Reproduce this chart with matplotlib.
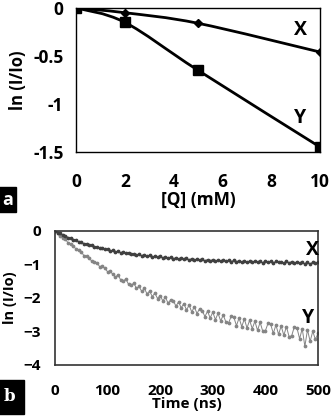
import numpy as np
import matplotlib
matplotlib.use("Agg")
from matplotlib import pyplot as plt
from matplotlib.path import Path
from matplotlib.patches import PathPatch

plt.rcParams['font.family'] = ['Open Sans', 'DejaVu Sans']
plt.rcParams['font.weight'] = 'bold'
plt.rcParams['axes.labelweight'] = 'bold'

# panel a: quenching data
conc = [0, 2, 5, 10]
x_quench = [0, -0.05, -0.16, -0.46]
y_quench = [0, -0.15, -0.65, -1.45]

# panel b: time traces, every 5 ns
time_ns = list(range(0, 505, 5))
x_trace = [0.00, -0.05, -0.07, -0.13, -0.14, -0.20, -0.21, -0.26, -0.27, -0.32,
           -0.33, -0.38, -0.38, -0.43, -0.42, -0.47, -0.47, -0.52, -0.50, -0.55,
           -0.54, -0.59, -0.58, -0.62, -0.61, -0.65, -0.63, -0.67, -0.65, -0.70,
           -0.68, -0.72, -0.70, -0.74, -0.71, -0.76, -0.73, -0.78, -0.75, -0.79,
           -0.76, -0.80, -0.78, -0.82, -0.79, -0.83, -0.80, -0.84, -0.81, -0.85,
           -0.82, -0.86, -0.83, -0.87, -0.84, -0.88, -0.85, -0.89, -0.86, -0.89,
           -0.86, -0.90, -0.87, -0.91, -0.87, -0.91, -0.88, -0.92, -0.88, -0.92,
           -0.89, -0.93, -0.89, -0.93, -0.90, -0.94, -0.90, -0.93, -0.91, -0.95,
           -0.90, -0.94, -0.91, -0.96, -0.91, -0.94, -0.92, -0.97, -0.91, -0.95,
           -0.92, -0.97, -0.92, -0.96, -0.93, -0.99, -0.92, -1.00, -0.93, -0.97,
           -0.94]
y_trace = [0.00, -0.06, -0.16, -0.20, -0.25, -0.36, -0.40, -0.44, -0.55, -0.58,
           -0.62, -0.74, -0.76, -0.80, -0.91, -0.92, -0.95, -1.07, -1.06, -1.12,
           -1.22, -1.20, -1.30, -1.38, -1.31, -1.47, -1.49, -1.44, -1.60, -1.62,
           -1.56, -1.72, -1.66, -1.81, -1.72, -1.88, -1.80, -1.96, -1.86, -2.02,
           -1.93, -2.09, -1.98, -2.16, -2.06, -2.08, -2.25, -2.12, -2.30, -2.17,
           -2.36, -2.22, -2.42, -2.27, -2.47, -2.32, -2.38, -2.56, -2.40, -2.60,
           -2.43, -2.65, -2.46, -2.69, -2.51, -2.73, -2.75, -2.55, -2.58, -2.83,
           -2.60, -2.86, -2.63, -2.90, -2.67, -2.92, -2.70, -2.97, -2.73, -3.00,
           -2.98, -2.76, -2.79, -3.06, -2.81, -3.09, -2.84, -3.12, -2.86, -3.16,
           -3.13, -2.86, -2.90, -3.22, -2.92, -3.45, -2.95, -3.30, -3.00, -3.24,
           -3.06]


def smooth_path(xs, ys):
    # Excel-style smoothed line as cubic bezier segments
    verts = [(xs[0], ys[0])]
    codes = [Path.MOVETO]
    n = len(xs)
    for i in range(n - 1):
        x0, y0 = (xs[i - 1], ys[i - 1]) if i > 0 else (xs[i], ys[i])
        x1, y1 = xs[i], ys[i]
        x2, y2 = xs[i + 1], ys[i + 1]
        x3, y3 = (xs[i + 2], ys[i + 2]) if i + 2 < n else (x2, y2)
        c1 = (x1 + (x2 - x0) / 6.0, y1 + (y2 - y0) / 6.0)
        c2 = (x2 - (x3 - x1) / 6.0, y2 - (y3 - y1) / 6.0)
        verts += [c1, c2, (x2, y2)]
        codes += [Path.CURVE4] * 3
    return Path(verts, codes)


fig = plt.figure(figsize=(3.33, 4.16), dpi=100)

# ---- panel a
ax1 = fig.add_axes([0.228, 0.635, 0.733, 0.346])
ax1.add_patch(PathPatch(smooth_path(conc, x_quench), fc='none', ec='black', lw=2))
ax1.add_patch(PathPatch(smooth_path(conc, y_quench), fc='none', ec='black', lw=2))
ax1.plot(conc, x_quench, ls='none', marker='D', ms=4, color='black')
ax1.plot(conc, y_quench, ls='none', marker='s', ms=7, color='black')
ax1.set_xlim(0, 10)
ax1.set_ylim(-1.5, 0)
ax1.set_xticks([0, 2, 4, 6, 8, 10])
ax1.set_yticks([0, -0.5, -1, -1.5])
ax1.set_yticklabels(['0', '-0.5', '-1', '-1.5'])
ax1.tick_params(axis='x', length=0, labelsize=12.5, pad=15)
ax1.tick_params(axis='y', length=0, labelsize=12.5, pad=9)
ax1.set_xlabel('[Q] (mM)', fontsize=12.5, labelpad=0)
ax1.set_ylabel('ln (I/Io)', fontsize=12, labelpad=4)
for s in ax1.spines.values():
    s.set_linewidth(1)
ax1.text(9.2, -0.23, 'X', fontsize=14, ha='center', va='center')
ax1.text(9.2, -1.15, 'Y', fontsize=14, ha='center', va='center')

# ---- panel b
ax2 = fig.add_axes([0.165, 0.123, 0.790, 0.322])
ax2.plot(time_ns, y_trace, color='#858585', lw=0.7, marker='o', ms=1.7)
ax2.plot(time_ns, x_trace, color='#404040', lw=0.7, marker='o', ms=1.7)
ax2.set_xlim(0, 500)
ax2.set_ylim(-4, 0)
ax2.set_xticks([0, 100, 200, 300, 400, 500])
ax2.set_yticks([0, -1, -2, -3, -4])
ax2.tick_params(axis='x', length=0, labelsize=11, pad=14)
ax2.tick_params(axis='y', length=0, labelsize=11, pad=10)
ax2.set_xlabel('Time (ns)', fontsize=11, labelpad=-1)
ax2.set_ylabel('ln (I/Io)', fontsize=10.5, labelpad=5)
for s in ax2.spines.values():
    s.set_linewidth(1.2)
    s.set_color('#333333')
ax2.text(489, -0.57, 'X', fontsize=14, ha='center', va='center')
ax2.text(482, -2.6, 'Y', fontsize=14, ha='center', va='center')

# panel letters
fig.text(0.006, 0.52, 'a', color='white', fontsize=13, ha='left', va='center',
         bbox=dict(facecolor='black', edgecolor='black', pad=2.5))
fig.text(0.012, 0.046, 'b', color='white', fontsize=12, family='DejaVu Serif',
         ha='left', va='center',
         bbox=dict(facecolor='black', edgecolor='black', pad=6))

fig.savefig('out.png', dpi=100)
